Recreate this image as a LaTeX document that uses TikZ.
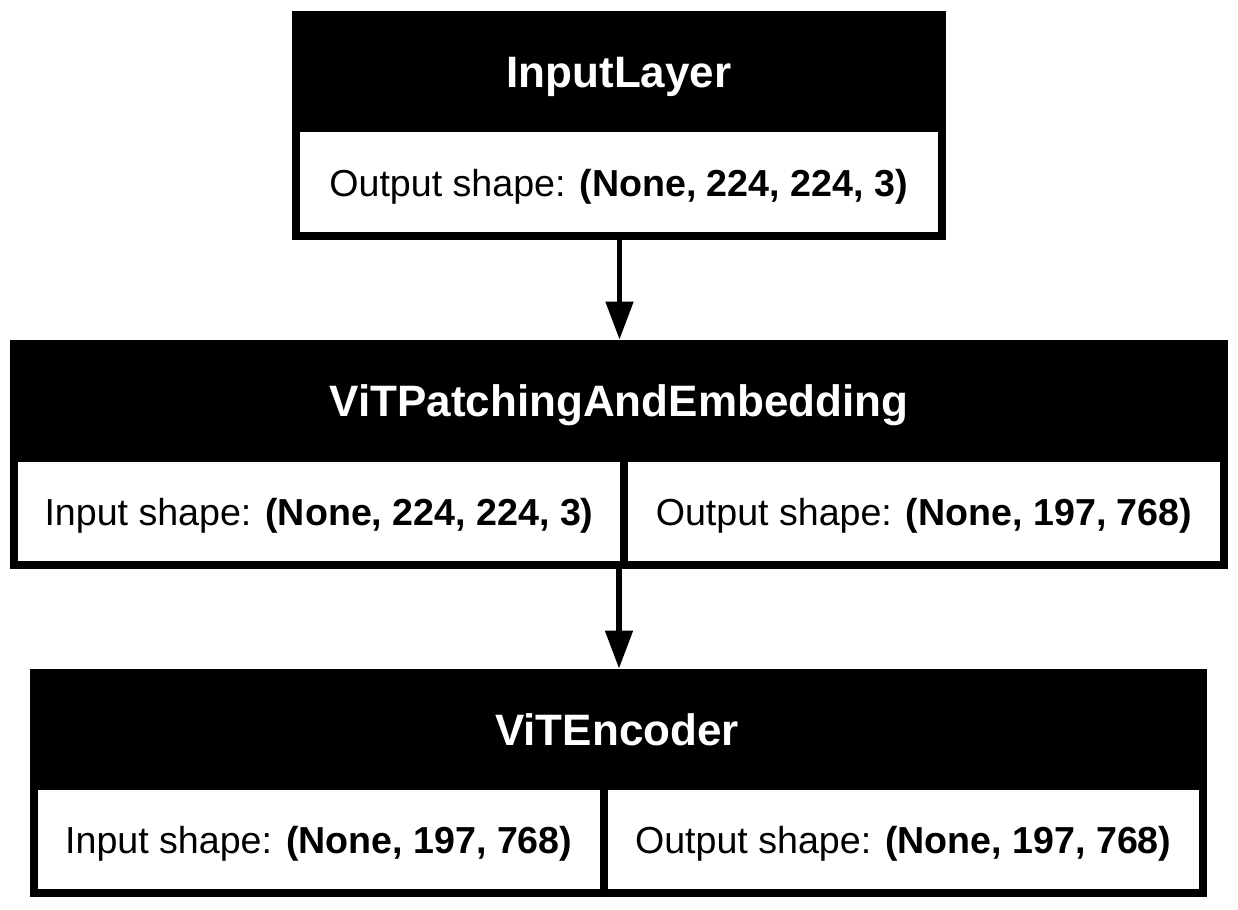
\documentclass[tikz,border=0pt]{standalone}
\usepackage{fontspec}
\setmainfont{Liberation Sans}
\usetikzlibrary{arrows.meta}
\begin{document}
\begin{tikzpicture}[x=0.5pt,y=-0.5pt,
 layer/.style={fill=black, draw=none, inner sep=0pt, rectangle},
 ttl/.style={text=white, font=\fontsize{22}{26}\selectfont\bfseries, anchor=base, inner sep=0pt},
 cell/.style={fill=white, draw=none, inner sep=0pt, text height=14pt, text depth=0pt, font=\fontsize{18.8}{22}\selectfont, minimum height=49.5pt},
 arr/.style={line width=2.75pt, -{Triangle[width=13.4pt,length=19pt]}}]
\useasboundingbox (0,0) rectangle (1238,910);
\fill[white] (0,0) rectangle (1238,910);

% InputLayer
\node[layer, minimum width=327pt, minimum height=114.5pt] (b1) at (618.5,125.5) {};
\node[ttl] (t1) at (619,87.7) {InputLayer};
\node[cell, minimum width=319pt, minimum height=50pt] (o1) at (618.5,182) {Output shape: \textbf{(None, 224, 224, 3)}};

% ViTPatchingAndEmbedding
\node[layer, minimum width=609pt, minimum height=114.5pt] (b2) at (619,454.5) {};
\node[ttl] (t2) at (619,416.7) {ViTPatchingAndEmbedding};
\node[cell, minimum width=301pt] (i2) at (319,511) {Input shape: \textbf{(None, 224, 224, 3)}};
\node[cell, minimum width=296pt] (o2) at (924,511) {Output shape: \textbf{(None, 197, 768)}};

% ViTEncoder
\node[layer, minimum width=588.5pt, minimum height=114pt] (b3) at (618.5,783) {};
\node[ttl] (t3) at (617,745.5) {ViTEncoder};
\node[cell, minimum width=280.75pt] (i3) at (318.75,839.5) {Input shape: \textbf{(None, 197, 768)}};
\node[cell, minimum width=295.75pt] (o3) at (903.25,839.5) {Output shape: \textbf{(None, 197, 768)}};

% connectors
\draw[arr] ([xshift=0.5pt]b1.south) -- ([xshift=0.5pt]b1.south |- b2.north);
\draw[arr] (b2.south) -- (b2.south |- b3.north);
\end{tikzpicture}
\end{document}
